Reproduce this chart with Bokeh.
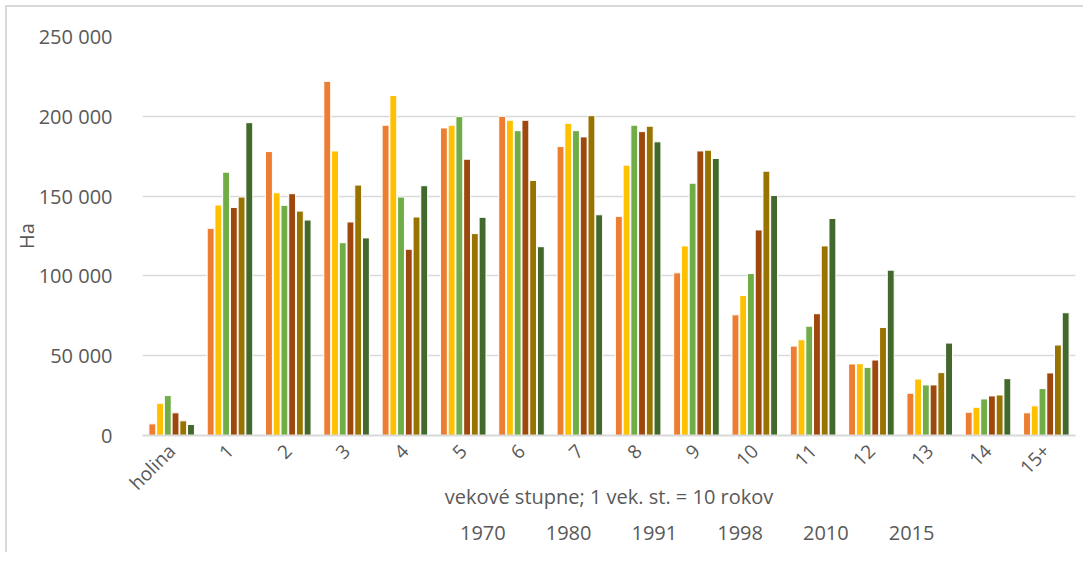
import math
from bokeh.plotting import figure
from bokeh.layouts import column
from bokeh.models import FactorRange, Range1d, ColumnDataSource, Legend, LegendItem, FixedTicker
from bokeh.transform import dodge
from bokeh.embed import file_html
from bokeh.resources import INLINE

categories = ["holina", "1", "2", "3", "4", "5", "6", "7", "8", "9", "10", "11", "12", "13", "14", "15+"]
years = ["1970", "1980", "1991", "1998", "2010", "2015"]

v1970 = [7300, 129800, 177900, 221900, 194400, 192700, 200000, 181000, 137300, 101900, 75600, 56000, 44800, 26500, 14600, 14200]
v1980 = [20200, 144400, 152100, 178300, 213100, 194400, 197500, 195600, 169400, 118800, 87700, 60000, 45000, 35400, 17700, 18600]
v1991 = [25000, 165000, 144200, 120800, 149400, 199800, 191000, 191000, 194400, 158100, 101500, 68500, 42700, 31700, 22900, 29400]
v1998 = [14200, 142900, 151500, 133800, 116700, 173100, 197500, 187100, 190400, 178300, 128800, 76300, 47300, 31700, 24800, 39200]
v2010 = [9200, 149400, 140600, 156900, 136900, 126500, 159800, 200400, 193800, 178800, 165600, 118800, 67700, 39400, 25400, 56700]
v2015 = [6900, 196000, 135000, 123800, 156500, 136700, 118300, 138300, 184000, 173600, 150400, 136000, 103600, 57900, 35600, 76900]

colors = ["#ED7D31", "#FFC000", "#70AD47", "#9E480E", "#997300", "#43682B"]
y_ticks = [0, 50000, 100000, 150000, 200000, 250000]
y_tick_labels = ["0", "50 000", "100 000", "150 000", "200 000", "250 000"]
x_title = "vekové stupne; 1 vek. st. = 10 rokov"
y_title = "Ha"

series = [v1970, v1980, v1991, v1998, v2010, v2015]
data = {"cat": categories}
for y, s in zip(years, series):
    data["y" + y] = s
source = ColumnDataSource(data)

FONT = "Open Sans"
TXT = "#595959"
BORDER_BG = ("linear-gradient(#D9D9D9,#D9D9D9) 5px 5px / 2px 100% no-repeat, "
             "linear-gradient(#D9D9D9,#D9D9D9) 5px 5px / 100% 2px no-repeat, white")

p = figure(x_range=FactorRange(*categories, range_padding=0, factor_padding=0),
           y_range=Range1d(0, 250000),
           frame_width=933, frame_height=399, output_backend="svg", toolbar_location=None,
           min_border_left=142, min_border_right=8, min_border_top=36, min_border_bottom=0)

step = 0.1326
for i, (y, c) in enumerate(zip(years, colors)):
    p.vbar(x=dodge("cat", (i - 2.5) * step, range=p.x_range), top="y" + y, width=0.118,
           source=source, fill_color=c, line_color="white", line_width=1)

p.outline_line_color = None
p.border_fill_color = None
p.background_fill_color = "white"
p.styles = {"background": BORDER_BG}
p.xgrid.grid_line_color = None
p.ygrid.grid_line_color = "#D9D9D9"
p.ygrid.grid_line_width = 1.5
p.yaxis.ticker = FixedTicker(ticks=y_ticks)
p.yaxis.major_label_overrides = {t: l for t, l in zip(y_ticks, y_tick_labels)}
p.yaxis.axis_line_color = None
p.yaxis.major_tick_line_color = None
p.yaxis.minor_tick_line_color = None
p.yaxis.major_label_standoff = 24
p.yaxis.axis_label = y_title
p.yaxis.axis_label_standoff = -4

p.xaxis.axis_line_color = "#D9D9D9"
p.xaxis.axis_line_width = 2
p.xaxis.major_tick_line_color = None
p.xaxis.minor_tick_line_color = None
p.xaxis.major_label_orientation = math.pi / 4
p.xaxis.major_label_standoff = 6
p.xaxis.axis_label = x_title
p.xaxis.axis_label_standoff = -25

for ax in (p.xaxis, p.yaxis):
    ax.major_label_text_font = FONT
    ax.major_label_text_color = TXT
    ax.axis_label_text_font = FONT
    ax.axis_label_text_color = TXT
    ax.axis_label_text_font_style = "normal"
p.yaxis.major_label_text_font_size = "20px"
p.xaxis.major_label_text_font_size = "19px"
p.yaxis.axis_label_text_font_size = "20px"
p.xaxis.axis_label_text_font_size = "20px"

# legend strip beneath the chart
lg = figure(width=1083, height=40, output_backend="svg", toolbar_location=None,
            x_range=Range1d(0, 1), y_range=Range1d(0, 1),
            x_axis_location=None, y_axis_location=None, min_border=0)
lg.outline_line_color = None
lg.xgrid.grid_line_color = None
lg.ygrid.grid_line_color = None
lg.border_fill_color = None
lg.background_fill_color = None
lg.styles = {"background": "linear-gradient(#D9D9D9,#D9D9D9) 5px 0px / 2px 100% no-repeat, white"}
items = []
for y, c in zip(years, colors):
    r = lg.vbar(x=[], top=[], width=0.1, fill_color=c, line_color="white", line_width=1)
    items.append(LegendItem(label=y, renderers=[r]))
legend = Legend(items=items, orientation="horizontal", location=(300, 6),
                label_text_font=FONT, label_text_font_size="20px", label_text_color=TXT,
                glyph_width=13, glyph_height=13, label_standoff=5, spacing=22,
                border_line_color=None, background_fill_alpha=0, padding=0, margin=0)
lg.add_layout(legend)

page = column(p, lg, spacing=0)
open("out.html", "w").write(file_html(page, INLINE))
